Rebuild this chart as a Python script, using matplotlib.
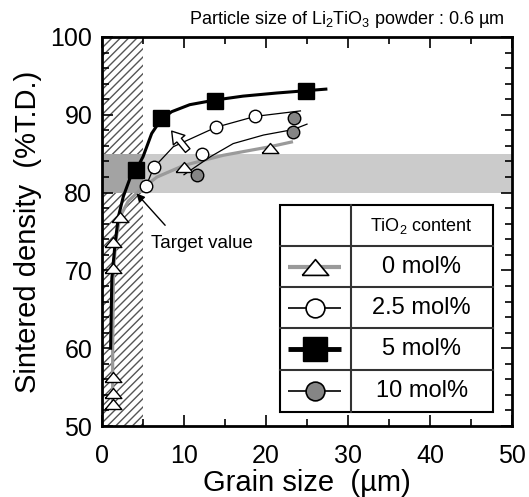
import matplotlib
matplotlib.use("Agg")
import matplotlib.pyplot as plt
from matplotlib.patches import Rectangle
from matplotlib.ticker import MultipleLocator

plt.rcParams['font.family'] = ['Liberation Sans', 'DejaVu Sans']
plt.rcParams['mathtext.fontset'] = 'custom'
plt.rcParams['mathtext.rm'] = 'Liberation Sans'
plt.rcParams['mathtext.it'] = 'Liberation Sans'
plt.rcParams['hatch.linewidth'] = 1.0

# measured points
tri_x = [1.4, 1.4, 1.4, 1.4, 1.4, 2.2, 10.0, 20.5]
tri_y = [52.8, 54.2, 56.3, 70.3, 73.6, 76.9, 83.3, 85.7]
circ_x = [5.4, 6.3, 12.2, 13.9, 18.7]
circ_y = [80.8, 83.3, 85.0, 88.4, 89.8]
sq_x = [4.2, 7.2, 13.8, 24.9]
sq_y = [82.9, 89.6, 91.8, 93.1]
gc_x = [11.6, 23.3, 23.4]
gc_y = [82.2, 87.8, 89.6]

# guide curves
c0_x = [1.3, 1.3, 1.4, 1.7, 2.2, 3.2, 4.6, 6.7, 10.0, 14.8, 20.5, 23.1]
c0_y = [52.5, 60.0, 70.0, 74.0, 76.9, 78.9, 80.3, 82.0, 83.5, 84.8, 85.9, 86.5]
c25_x = [5.2, 6.3, 8.7, 13.9, 18.7, 24.2]
c25_y = [80.4, 83.2, 85.9, 88.4, 89.8, 90.5]
c5_x = [1.05, 1.2, 1.6, 2.0, 2.6, 3.4, 4.2, 5.0, 6.06, 7.2, 8.5, 10.7, 13.8, 17.2, 21.3, 24.9, 27.3]
c5_y = [60.0, 69.0, 73.5, 76.9, 79.5, 81.8, 83.0, 84.6, 87.6, 89.4, 90.4, 91.3, 91.9, 92.4, 92.8, 93.1, 93.3]
c10_x = [10.0, 13.2, 16.0, 19.7, 23.3, 25.0]
c10_y = [82.3, 84.6, 86.3, 87.4, 88.1, 88.8]

target_lo, target_hi = 80, 85
grain_limit = 5
labels = ['0 mol%', '2.5 mol%', '5 mol%', '10 mol%']

tri = [(-1, -0.6), (1, -0.6), (0, 0.6), (-1, -0.6)]

fig = plt.figure(figsize=(5.29, 4.97), dpi=100)
ax = fig.add_axes([102/529, 1-426/497, 410/529, 389/497])

# hatched region and target band
ax.add_patch(Rectangle((0, 50), grain_limit, 50, facecolor='white', hatch='////',
                       edgecolor='#555555', linewidth=0, zorder=0))
ax.fill_between([grain_limit, 50], target_lo, target_hi, color='#cbcbcb', lw=0, zorder=1)
ax.fill_between([0, grain_limit], target_lo, target_hi, color='#a3a3a3', lw=0, zorder=1)

ax.plot(c0_x, c0_y, color='#9a9a9a', lw=2.3, zorder=2)
ax.plot(c25_x, c25_y, color='black', lw=0.9, zorder=2)
ax.plot(c10_x, c10_y, color='black', lw=0.9, zorder=2)
ax.plot(c5_x, c5_y, color='black', lw=2.2, zorder=3)

ax.plot(tri_x, tri_y, ls='none', marker=tri, ms=12, mfc='white', mec='black', mew=1, zorder=4)
ax.plot(circ_x, circ_y, ls='none', marker='o', ms=9, mfc='white', mec='black', mew=1, zorder=4)
ax.plot(gc_x, gc_y, ls='none', marker='o', ms=9, mfc='#858585', mec='black', mew=1, zorder=4)
ax.plot(sq_x, sq_y, ls='none', marker='s', ms=12, mfc='black', mec='black', zorder=5)

# arrows
ax.annotate('', xy=(8.5, 87.9), xytext=(10.45, 85.4),
            arrowprops=dict(arrowstyle='simple,head_width=0.9,head_length=0.7,tail_width=0.35',
                            fc='white', ec='black', lw=1, mutation_scale=12, shrinkA=0, shrinkB=0),
            zorder=6)
ax.annotate('', xy=(4.2, 79.9), xytext=(7.7, 75.8),
            arrowprops=dict(arrowstyle='-|>', color='black', lw=1, mutation_scale=12,
                            shrinkA=0, shrinkB=0), zorder=6)
ax.text(6.0, 73.5, 'Target value', fontsize=13.5, va='center', ha='left')

# legend table
lx0, lx1, lx2 = 21.7, 30.33, 47.65
rows = [78.4, 73.14, 67.83, 62.56, 57.2, 51.84]
ax.add_patch(Rectangle((lx0, rows[-1]), lx2 - lx0, rows[0] - rows[-1], facecolor='white',
                       edgecolor='black', lw=1.5, zorder=7))
ax.plot([lx1, lx1], [rows[0], rows[-1]], color='#333333', lw=1.5, zorder=8)
for r in rows[1:-1]:
    ax.plot([lx0, lx2], [r, r], color='#333333', lw=1.5, zorder=8)
mx = (lx0 + lx1) / 2
tx = (lx1 + lx2) / 2
ax.text(tx, (rows[0] + rows[1]) / 2, r'TiO$_\mathregular{2}$ content', fontsize=13,
        ha='center', va='center', zorder=9)
line_styles = [dict(color='#9a9a9a', lw=3), dict(color='black', lw=1.2),
               dict(color='black', lw=3.5), dict(color='black', lw=1.2)]
mark_styles = [
    dict(marker=tri, ms=19, mfc='white', mec='black', mew=1.2),
    dict(marker='o', ms=13.5, mfc='white', mec='black', mew=1.2),
    dict(marker='s', ms=17, mfc='black', mec='black'),
    dict(marker='o', ms=13.5, mfc='#858585', mec='black', mew=1.2),
]
for i in range(4):
    yc = (rows[i + 1] + rows[i + 2]) / 2
    ax.plot([22.7, 29.1], [yc, yc], solid_capstyle='butt', zorder=9, **line_styles[i])
    ax.plot([mx], [yc], ls='none', zorder=10, **mark_styles[i])
    ax.text(tx, yc, labels[i], fontsize=17, ha='center', va='center', zorder=9)

ax.set_xlim(0, 50)
ax.set_ylim(50, 100)
ax.xaxis.set_major_locator(MultipleLocator(10))
ax.xaxis.set_minor_locator(MultipleLocator(5))
ax.yaxis.set_major_locator(MultipleLocator(10))
ax.yaxis.set_minor_locator(MultipleLocator(2))
ax.tick_params(which='both', direction='in', top=True, right=True, width=1.2, labelsize=18)
ax.tick_params(which='major', length=8)
ax.tick_params(which='minor', length=5)
ax.tick_params(axis='x', pad=13)
ax.tick_params(axis='y', pad=7)
for s in ax.spines.values():
    s.set_linewidth(2)
    s.set_zorder(11)

ax.set_xlabel('Grain size  (µm)', fontsize=21, labelpad=1)
ax.set_ylabel('Sintered density  (%T.D.)', fontsize=21, labelpad=6)
ax.text(0.983, 1.045, r'Particle size of Li$\mathregular{_2}$TiO$\mathregular{_3}$ powder : 0.6 µm',
        transform=ax.transAxes, fontsize=13, ha='right', va='center')

fig.savefig('out.png', dpi=100)
